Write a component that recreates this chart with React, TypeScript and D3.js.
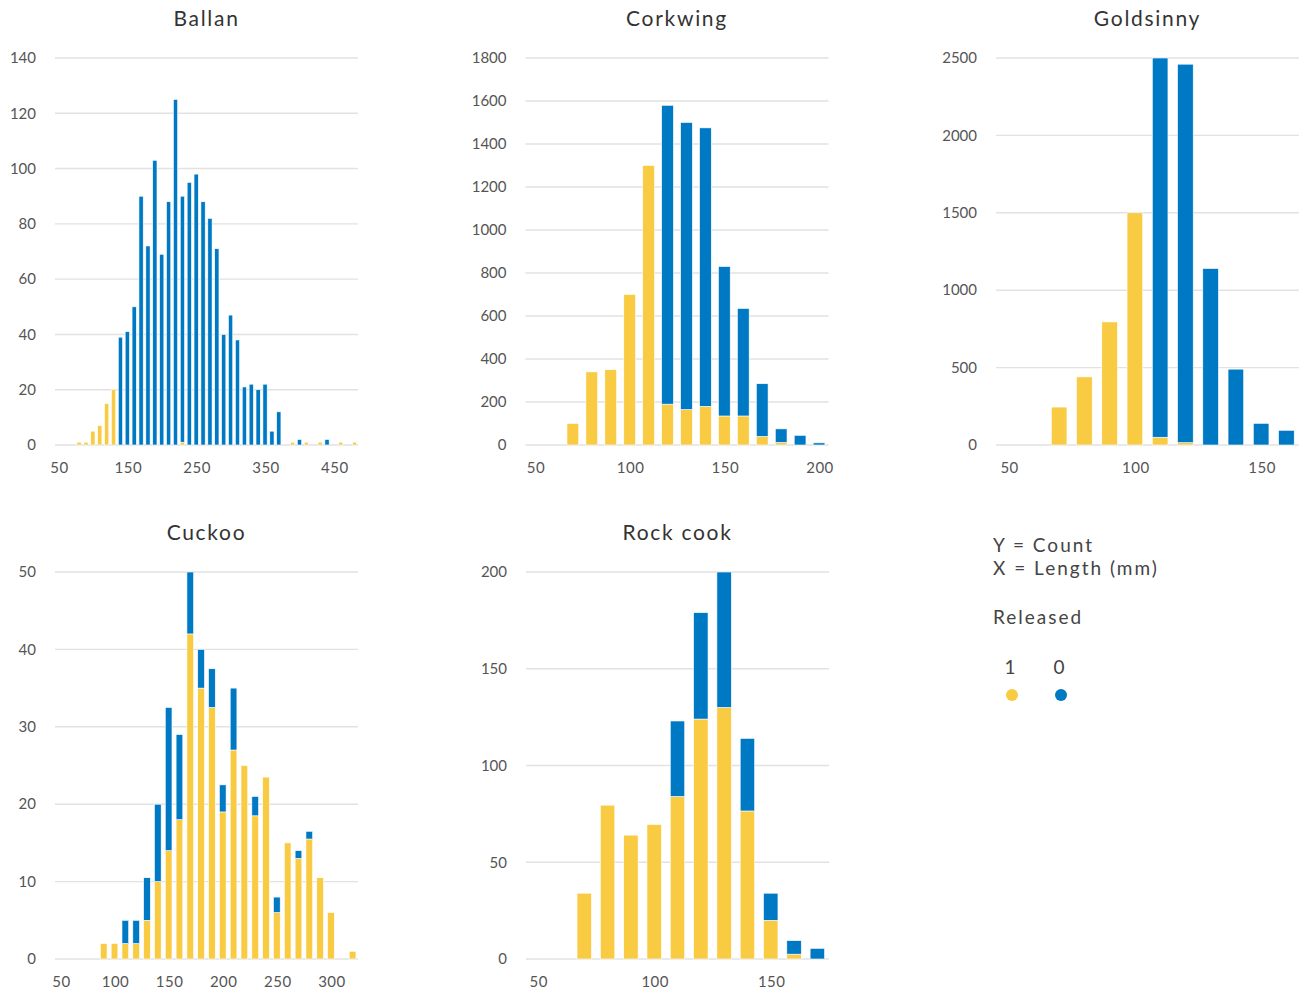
import React from "react";
import * as d3 from "d3";

// ---------- Data ----------
const BALLAN_BINS = [80, 90, 100, 110, 120, 130, 140, 150, 160, 170, 180, 190, 200, 210, 220, 230, 240, 250, 260, 270, 280, 290, 300, 310, 320, 330, 340, 350, 360, 370, 380, 390, 400, 410, 420, 430, 440, 450, 460, 470, 480];
const BALLAN_RELEASED = [1, 1, 5, 7, 15, 20, 0, 0, 0, 0, 0, 0, 0, 0, 0, 1, 0, 0, 0, 0, 0, 0, 0, 0, 0, 0, 0, 0, 0, 0, 0, 1, 0, 1, 0, 1, 0, 0, 1, 0, 1];
const BALLAN_KEPT = [0, 0, 0, 0, 0, 0, 39, 41, 50, 90, 72, 103, 69, 88, 125, 89, 95, 98, 88, 82, 71, 40, 47, 38, 21, 22, 20, 22, 5, 12, 0, 0, 2, 0, 0, 0, 2, 0, 0, 0, 0];

const CORKWING_BINS = [70, 80, 90, 100, 110, 120, 130, 140, 150, 160, 170, 180, 190, 200];
const CORKWING_RELEASED = [100, 340, 350, 700, 1300, 190, 165, 180, 135, 135, 40, 12, 0, 0];
const CORKWING_KEPT = [0, 0, 0, 0, 0, 1390, 1335, 1295, 695, 500, 245, 63, 45, 10];

const GOLDSINNY_BINS = [70, 80, 90, 100, 110, 120, 130, 140, 150, 160];
const GOLDSINNY_RELEASED = [245, 440, 795, 1500, 50, 15, 0, 0, 0, 0];
const GOLDSINNY_KEPT = [0, 0, 0, 0, 2450, 2445, 1140, 490, 140, 95];

const CUCKOO_BINS = [90, 100, 110, 120, 130, 140, 150, 160, 170, 180, 190, 200, 210, 220, 230, 240, 250, 260, 270, 280, 290, 300, 310, 320];
const CUCKOO_RELEASED = [2, 2, 2, 2, 5, 10, 14, 18, 42, 35, 32.5, 19, 27, 25, 18.5, 23.5, 6, 15, 13, 15.5, 10.5, 6, 0, 1];
const CUCKOO_KEPT = [0, 0, 3, 3, 5.5, 10, 18.5, 11, 8, 5, 5, 3.5, 8, 0, 2.5, 0, 2, 0, 1, 1, 0, 0, 0, 0];

const ROCKCOOK_BINS = [70, 80, 90, 100, 110, 120, 130, 140, 150, 160, 170];
const ROCKCOOK_RELEASED = [34, 79.5, 64, 69.5, 84, 124, 130, 76.5, 20, 2.5, 0];
const ROCKCOOK_KEPT = [0, 0, 0, 0, 39, 55, 70, 37.5, 14, 7, 5.5];

const BALLAN_Y_TICKS = [0, 20, 40, 60, 80, 100, 120, 140];
const CORKWING_Y_TICKS = [0, 200, 400, 600, 800, 1000, 1200, 1400, 1600, 1800];
const GOLDSINNY_Y_TICKS = [0, 500, 1000, 1500, 2000, 2500];
const CUCKOO_Y_TICKS = [0, 10, 20, 30, 40, 50];
const ROCKCOOK_Y_TICKS = [0, 50, 100, 150, 200];

const BALLAN_X_TICKS = [50, 150, 250, 350, 450];
const CORKWING_X_TICKS = [50, 100, 150, 200];
const GOLDSINNY_X_TICKS = [50, 100, 150];
const CUCKOO_X_TICKS = [50, 100, 150, 200, 250, 300];
const ROCKCOOK_X_TICKS = [50, 100, 150];

const LEGEND_KEYS = ["1", "0"];

// ---------- Style ----------
const YELLOW = "#F8CB43";
const BLUE = "#0079C5";
const GRID = "#e2e2e2";
const FONT = "Lato, 'Open Sans', sans-serif";
const BIN = 10;

type PanelDef = {
  title: string;
  bins: number[];
  released: number[];
  kept: number[];
  yTicks: number[];
  xTicks: number[];
  left: number;
  top: number;
};

const PW = 303;
const PH = 387;

const panels: PanelDef[] = [
  { title: "Ballan", bins: BALLAN_BINS, released: BALLAN_RELEASED, kept: BALLAN_KEPT, yTicks: BALLAN_Y_TICKS, xTicks: BALLAN_X_TICKS, left: 55, top: 58 },
  { title: "Corkwing", bins: CORKWING_BINS, released: CORKWING_RELEASED, kept: CORKWING_KEPT, yTicks: CORKWING_Y_TICKS, xTicks: CORKWING_X_TICKS, left: 525.5, top: 58 },
  { title: "Goldsinny", bins: GOLDSINNY_BINS, released: GOLDSINNY_RELEASED, kept: GOLDSINNY_KEPT, yTicks: GOLDSINNY_Y_TICKS, xTicks: GOLDSINNY_X_TICKS, left: 996, top: 58 },
  { title: "Cuckoo", bins: CUCKOO_BINS, released: CUCKOO_RELEASED, kept: CUCKOO_KEPT, yTicks: CUCKOO_Y_TICKS, xTicks: CUCKOO_X_TICKS, left: 55, top: 572 },
  { title: "Rock cook", bins: ROCKCOOK_BINS, released: ROCKCOOK_RELEASED, kept: ROCKCOOK_KEPT, yTicks: ROCKCOOK_Y_TICKS, xTicks: ROCKCOOK_X_TICKS, left: 526, top: 572 },
];

function Panel({ p }: { p: PanelDef }) {
  const maxBin = d3.max(p.bins) as number;
  const x = d3.scaleLinear().domain([45, maxBin + BIN / 2]).range([p.left, p.left + PW]);
  const y = d3.scaleLinear().domain([0, d3.max(p.yTicks) as number]).range([p.top + PH, p.top]);
  const binPx = x(BIN) - x(0);
  const bw = binPx * 0.62;
  const stack = d3.stack<number>().keys(["r", "k"]).value((i, key) => (key === "r" ? p.released[i] : p.kept[i]));
  const series = stack(p.bins.map((_, i) => i));
  const colors = [YELLOW, BLUE];
  return (
    <g>
      <text x={p.left + PW / 2} y={p.top - 32} textAnchor="middle" fontSize={21} fill="#333" style={{ letterSpacing: "1.7px" }}>
        {p.title}
      </text>
      {p.yTicks.map((t) => (
        <g key={t}>
          <line x1={p.left} x2={p.left + PW} y1={y(t)} y2={y(t)} stroke={GRID} strokeWidth={1.4} />
          <text x={p.left - 19} y={y(t)} dy="0.35em" textAnchor="end" fontSize={15} fill="#555">
            {t}
          </text>
        </g>
      ))}
      {p.xTicks.map((t) => (
        <text key={t} x={x(t) + 1} y={p.top + PH + 28} textAnchor="middle" fontSize={15} fill="#555" style={{ letterSpacing: "0.5px" }}>
          {t}
        </text>
      ))}
      {series.map((s, si) => (
        <g key={si} fill={colors[si]}>
          {s.map((d, i) =>
            d[1] - d[0] > 0 ? (
              <rect
                key={i}
                x={x(p.bins[i]) - bw / 2}
                width={bw}
                y={y(d[1])}
                height={y(d[0]) - y(d[1])}
                stroke="#fff"
                strokeWidth={0.6}
              />
            ) : null
          )}
        </g>
      ))}
    </g>
  );
}

export default function App() {
  React.useEffect(() => {
    document.body.style.margin = "0";
  }, []);
  return (
    <svg width={1308} height={994} style={{ display: "block", position: "absolute", left: 0, top: 0, background: "#fff" }} fontFamily={FONT}>
      {panels.map((p) => (
        <Panel key={p.title} p={p} />
      ))}
      <g fill="#444" fontSize={19} style={{ letterSpacing: "2px" }}>
        <text x={993} y={552}>Y = Count</text>
        <text x={993} y={575}>X = Length (mm)</text>
        <text x={993} y={624}>Released</text>
        {LEGEND_KEYS.map((k, i) => (
          <g key={k}>
            <text x={1011 + i * 49} y={674} textAnchor="middle">{k}</text>
            <circle cx={1012 + i * 49} cy={695} r={6} fill={i === 0 ? YELLOW : BLUE} />
          </g>
        ))}
      </g>
    </svg>
  );
}
